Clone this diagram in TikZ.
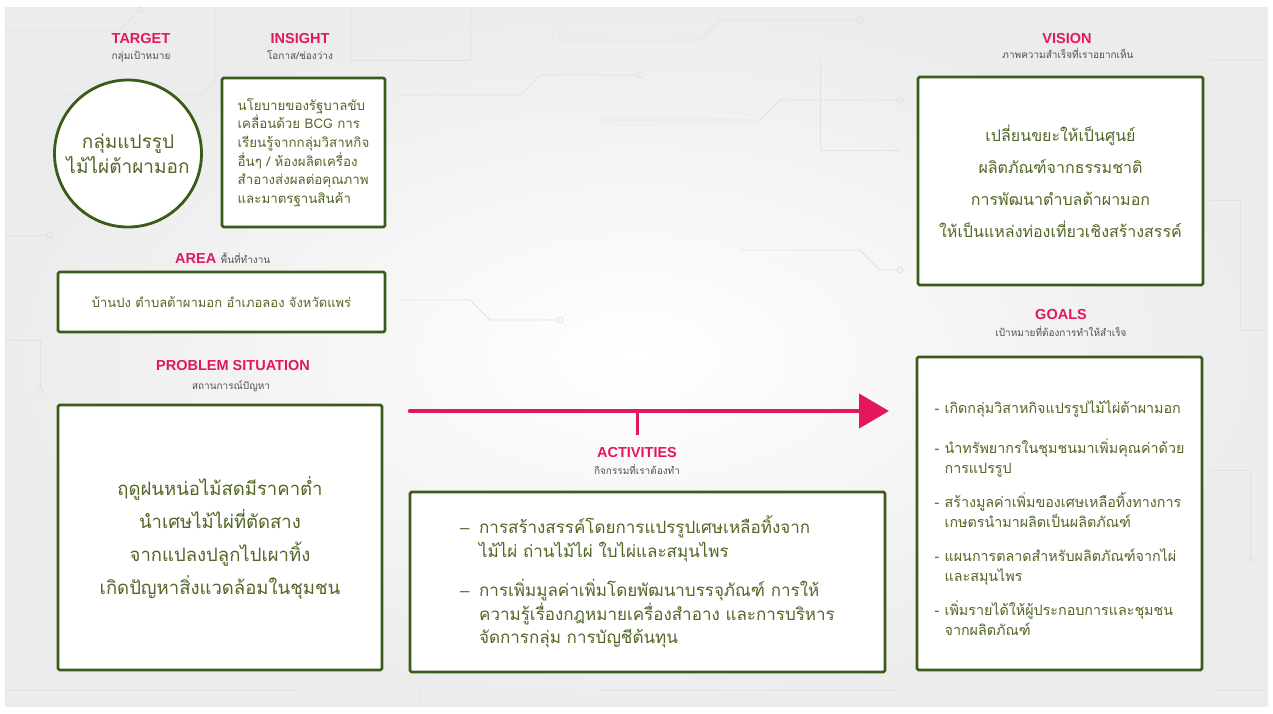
\documentclass[tikz,border=0pt]{standalone}
\usepackage{fontspec}
\setmainfont{Liberation Sans}
\newfontfamily\thai[Script=Thai]{Loma}
\usetikzlibrary{arrows.meta}
\definecolor{pinkc}{HTML}{E3175E}
\definecolor{greenb}{HTML}{3B5B1A}
\definecolor{greent}{HTML}{526625}
\definecolor{subg}{HTML}{505050}
\definecolor{bgg}{HTML}{ECECEC}
\definecolor{circ}{HTML}{E2E2E2}
\newcommand{\edash}{\makebox[19pt][l]{\rmfamily –}}
\begin{document}
\begin{tikzpicture}[x=1pt,y=-1pt,
  head/.style={text=pinkc, font=\bfseries\fontsize{14.5}{16}\selectfont, inner sep=0pt, anchor=base},
  sub/.style={text=subg, font=\thai\fontsize{10}{12}\selectfont, inner sep=0pt, anchor=base},
  box/.style={draw=greenb, line width=2.6pt, fill=white, rounded corners=1.5pt, inner sep=0pt, text=greent, align=left},
  circuit/.style={draw=circ, line width=0.9pt},
  dotc/.style={draw=circ, line width=0.9pt, fill=none},
  flow/.style={draw=pinkc, line width=4.5pt, line cap=round}
]
\useasboundingbox (0,0) rectangle (1273,713);
% background
\fill[white] (0,0) rectangle (1273,713);
\shade[inner color=white, outer color=bgg, shading=radial] (5,7) rectangle (1268,706);
% faint circuit decoration
\path[circuit] (5,30) -- (120,30) -- (140,10);
\path[circuit] (60,95) -- (200,95) -- (215,80) -- (215,7);
\path[circuit] (350,7) -- (350,60) -- (470,60) -- (470,7);
\path[circuit] (400,95) -- (520,95) -- (540,75) -- (640,75);
\path[circuit] (560,7) -- (560,40) -- (700,40) -- (720,20) -- (860,20);
\path[circuit] (600,120) -- (760,120) -- (780,100) -- (900,100);
\path[circuit] (820,60) -- (820,150) -- (900,150);
\path[circuit] (5,235) -- (50,235);
\path[circuit] (5,340) -- (40,340) -- (40,390);
\path[circuit] (1210,60) -- (1268,60);
\path[circuit] (1210,200) -- (1240,200) -- (1240,330) -- (1268,330);
\path[circuit] (1210,470) -- (1250,470) -- (1250,560);
\path[circuit] (5,690) -- (300,690);
\path[circuit] (420,690) -- (420,706);
\path[circuit] (600,690) -- (900,690);
\path[circuit] (1215,690) -- (1268,690);
\path[circuit] (400,300) -- (470,300) -- (490,320) -- (560,320);
\path[circuit] (740,250) -- (860,250) -- (880,270) -- (900,270);
\path[dotc] (140,10) circle (3) (640,75) circle (3) (860,20) circle (3) (900,100) circle (3)
  (50,235) circle (3) (40,390) circle (3) (1250,560) circle (3) (560,320) circle (3) (900,270) circle (3);

% TARGET
\node[head] (tgth) at (141,43.5) {TARGET};
\node[sub] (tgts) at (141,59) {กลุ่มเป้าหมาย};
\node[draw=greenb, line width=2.8pt, fill=white, circle, minimum size=147pt, inner sep=0pt,
      text=greent, align=center, font=\thai\fontsize{19}{25}\selectfont] (target) at (128,153.5)
  {กลุ่มแปรรูป\\ไม้ไผ่ต้าผามอก};

% INSIGHT
\node[head] (insh) at (300,43.5) {INSIGHT};
\node[sub] (inss) at (300,59) {โอกาส/ช่องว่าง};
\node[box, minimum width=163pt, minimum height=149pt, font=\thai\fontsize{13.3}{18.7}\selectfont] (insight) at (303.5,152.5)
  {นโยบายของรัฐบาลขับ\\เคลื่อนด้วย BCG การ\\เรียนรู้จากกลุ่มวิสาหกิจ\\อื่นๆ / ห้องผลิตเครื่อง\\สำอางส่งผลต่อคุณภาพ\\และมาตรฐานสินค้า};

% AREA
\node[head, anchor=base west] (areah) at (175,263) {AREA};
\node[sub, anchor=base west] (areas) at ([xshift=4pt]areah.base east) {พื้นที่ทำงาน};
\node[box, align=center, minimum width=327pt, minimum height=60pt, font=\thai\fontsize{13}{16}\selectfont] (area) at (221.5,302)
  {บ้านปง ตำบลต้าผามอก อำเภอลอง จังหวัดแพร่};

% PROBLEM SITUATION
\node[head] (probh) at (233,370) {PROBLEM SITUATION};
\node[sub] (probs) at (231,389) {สถานการณ์ปัญหา};
\node[box, align=center, minimum width=324pt, minimum height=265pt, font=\thai\fontsize{18.5}{33}\selectfont] (problem) at (220,537.5)
  {ฤดูฝนหน่อไม้สดมีราคาต่ำ\\นำเศษไม้ไผ่ที่ตัดสาง\\จากแปลงปลูกไปเผาทิ้ง\\เกิดปัญหาสิ่งแวดล้อมในชุมชน};

% VISION
\node[head] (vish) at (1067,43.5) {VISION};
\node[sub] (viss) at (1068,58) {ภาพความสำเร็จที่เราอยากเห็น};
\node[box, align=center, minimum width=285pt, minimum height=208pt, font=\thai\fontsize{16}{32}\selectfont] (vision) at (1060.5,181)
  {เปลี่ยนขยะให้เป็นศูนย์\\ผลิตภัณฑ์จากธรรมชาติ\\การพัฒนาตำบลต้าผามอก\\ให้เป็นแหล่งท่องเที่ยวเชิงสร้างสรรค์};

% GOALS
\node[head] (goalh) at (1061,319) {GOALS};
\node[sub] (goals) at (1061,336) {เป้าหมายที่ต้องการทำให้สำเร็จ};
\node[box, minimum width=285pt, minimum height=313pt, font=\thai\fontsize{14.3}{19.5}\selectfont] (goal) at (1059.5,513.5)
  {\rule{0pt}{22pt}\makebox[10pt][l]{-}เกิดกลุ่มวิสาหกิจแปรรูปไม้ไผ่ต้าผามอก\\[21pt]
   \makebox[10pt][l]{-}นำทรัพยากรในชุมชนมาเพิ่มคุณค่าด้วย\\
   \hspace*{10pt}การแปรรูป\\[15pt]
   \makebox[10pt][l]{-}สร้างมูลค่าเพิ่มของเศษเหลือทิ้งทางการ\\
   \hspace*{10pt}เกษตรนำมาผลิตเป็นผลิตภัณฑ์\\[15pt]
   \makebox[10pt][l]{-}แผนการตลาดสำหรับผลิตภัณฑ์จากไผ่\\
   \hspace*{10pt}และสมุนไพร\\[15pt]
   \makebox[10pt][l]{-}เพิ่มรายได้ให้ผู้ประกอบการและชุมชน\\
   \hspace*{10pt}จากผลิตภัณฑ์};

% ACTIVITIES
\node[head] (acth) at (637,457) {ACTIVITIES};
\node[sub] (acts) at (637,474) {กิจกรรมที่เราต้องทำ};
\node[box, minimum width=475pt, minimum height=180pt, font=\thai\fontsize{17}{23.5}\selectfont] (activity) at (647.5,582)
  {\edash การสร้างสรรค์โดยการแปรรูปเศษเหลือทิ้งจาก\\
   \hspace*{19pt}ไม้ไผ่ ถ่านไม้ไผ่ ใบไผ่และสมุนไพร\\[16pt]
   \edash การเพิ่มมูลค่าเพิ่มโดยพัฒนาบรรจุภัณฑ์ การให้\\
   \hspace*{19pt}ความรู้เรื่องกฎหมายเครื่องสำอาง และการบริหาร\\
   \hspace*{19pt}จัดการกลุ่ม การบัญชีต้นทุน};

% flow arrow
\coordinate (arrS) at (410,411);
\coordinate (arrE) at (889,411);
\coordinate (tick) at (637,411);
\coordinate (tickE) at (637,435);
\draw[flow, -{Triangle[length=30pt,width=34pt]}] (arrS) -- (arrE);
\draw[draw=pinkc, line width=3pt] (tick) -- (tickE);
\end{tikzpicture}
\end{document}
